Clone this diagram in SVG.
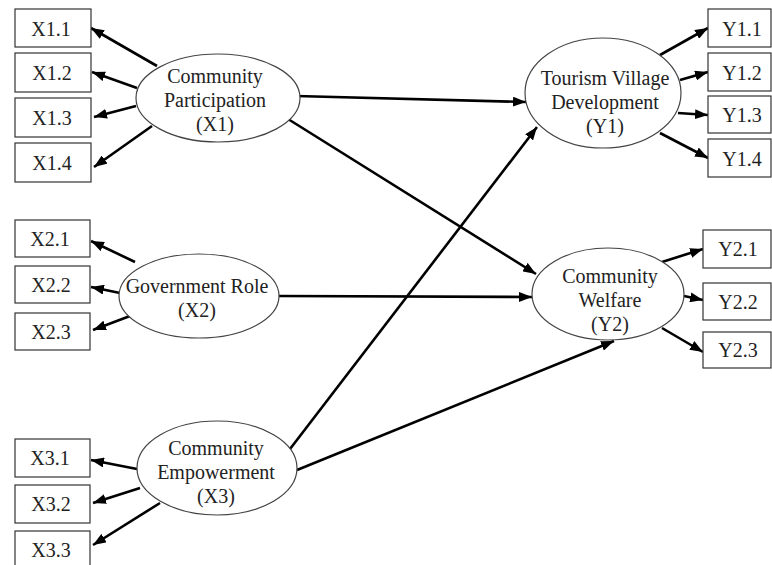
<svg xmlns="http://www.w3.org/2000/svg" width="772" height="565" viewBox="0 0 772 565">
<style>
.box{fill:#fff;stroke:#333;stroke-width:1.2}
.ell{fill:#fff;stroke:#444;stroke-width:1.2}
text{font-family:"Liberation Serif","Times New Roman",serif;font-size:20px;fill:#222;text-anchor:middle}
.c line{stroke:#000;stroke-width:2.6;marker-end:url(#ah)}
</style>
<defs>
<marker id="ah" markerUnits="userSpaceOnUse" markerWidth="14" markerHeight="10" refX="13" refY="5" orient="auto">
<path d="M0,0 L13,5 L0,10 z" fill="#000"/>
</marker>
</defs>
<rect width="772" height="565" fill="#fff"/>
<g class="c" id="connectors">
<line x1="157" y1="66" x2="91" y2="28"/>
<line x1="137" y1="88" x2="92" y2="72"/>
<line x1="136" y1="106" x2="94" y2="117"/>
<line x1="152" y1="126" x2="94" y2="167"/>
<line x1="135" y1="262" x2="91" y2="241"/>
<line x1="120" y1="293" x2="91" y2="287"/>
<line x1="130" y1="316" x2="93" y2="330"/>
<line x1="137" y1="469" x2="91" y2="460"/>
<line x1="140" y1="488" x2="93" y2="503"/>
<line x1="160" y1="503" x2="93" y2="545"/>
<line x1="660" y1="55" x2="708" y2="28"/>
<line x1="680" y1="80" x2="708" y2="72"/>
<line x1="678" y1="113" x2="708" y2="115"/>
<line x1="660" y1="133" x2="708" y2="158"/>
<line x1="662" y1="262" x2="703" y2="249"/>
<line x1="684" y1="296" x2="703" y2="300"/>
<line x1="662" y1="328" x2="703" y2="352"/>
<line x1="296" y1="96" x2="526" y2="102"/>
<line x1="288" y1="119" x2="536" y2="274"/>
<line x1="279" y1="296" x2="532" y2="297"/>
<line x1="290" y1="449" x2="537" y2="127"/>
<line x1="297" y1="470" x2="614" y2="341"/>
</g>
<g id="X1"><ellipse class="ell" cx="218" cy="98" rx="82" ry="44"/><text x="215" y="83">Community</text><text x="215" y="107">Participation</text><text x="215" y="131">(X1)</text></g>
<g id="X2"><ellipse class="ell" cx="199" cy="296" rx="80" ry="42"/><text x="197" y="293">Government Role</text><text x="197" y="317">(X2)</text></g>
<g id="X3"><ellipse class="ell" cx="217" cy="468" rx="80" ry="47"/><text x="216" y="455">Community</text><text x="216" y="479">Empowerment</text><text x="216" y="503">(X3)</text></g>
<g id="Y1"><ellipse class="ell" cx="603" cy="93" rx="78" ry="55"/><text x="605" y="85">Tourism Village</text><text x="605" y="109">Development</text><text x="605" y="133">(Y1)</text></g>
<g id="Y2"><ellipse class="ell" cx="608" cy="294" rx="76" ry="46"/><text x="610" y="283">Community</text><text x="610" y="307">Welfare</text><text x="610" y="331">(Y2)</text></g>
<g id="X1.1"><rect class="box" x="15" y="9" width="76" height="38"/><text x="51" y="36">X1.1</text></g>
<g id="X1.2"><rect class="box" x="15" y="53" width="76" height="39"/><text x="52" y="80">X1.2</text></g>
<g id="X1.3"><rect class="box" x="15" y="98" width="76" height="39"/><text x="52" y="125">X1.3</text></g>
<g id="X1.4"><rect class="box" x="15" y="143" width="76" height="39"/><text x="52" y="170">X1.4</text></g>
<g id="X2.1"><rect class="box" x="15" y="220" width="75" height="37"/><text x="50" y="246">X2.1</text></g>
<g id="X2.2"><rect class="box" x="15" y="266" width="75" height="37"/><text x="51" y="292">X2.2</text></g>
<g id="X2.3"><rect class="box" x="15" y="313" width="75" height="37"/><text x="51" y="339">X2.3</text></g>
<g id="X3.1"><rect class="box" x="15" y="439" width="75" height="38"/><text x="50" y="465">X3.1</text></g>
<g id="X3.2"><rect class="box" x="15" y="485" width="75" height="38"/><text x="51" y="511">X3.2</text></g>
<g id="X3.3"><rect class="box" x="15" y="531" width="75" height="38"/><text x="51" y="557">X3.3</text></g>
<g id="Y1.1"><rect class="box" x="708" y="9" width="63" height="38"/><text x="742" y="36">Y1.1</text></g>
<g id="Y1.2"><rect class="box" x="708" y="53" width="63" height="38"/><text x="742" y="80">Y1.2</text></g>
<g id="Y1.3"><rect class="box" x="708" y="96" width="63" height="37"/><text x="742" y="122">Y1.3</text></g>
<g id="Y1.4"><rect class="box" x="708" y="139" width="63" height="38"/><text x="742" y="166">Y1.4</text></g>
<g id="Y2.1"><rect class="box" x="703" y="230" width="68" height="38"/><text x="738" y="256">Y2.1</text></g>
<g id="Y2.2"><rect class="box" x="703" y="283" width="68" height="37"/><text x="738" y="309">Y2.2</text></g>
<g id="Y2.3"><rect class="box" x="703" y="332" width="68" height="36"/><text x="738" y="357">Y2.3</text></g>
</svg>
